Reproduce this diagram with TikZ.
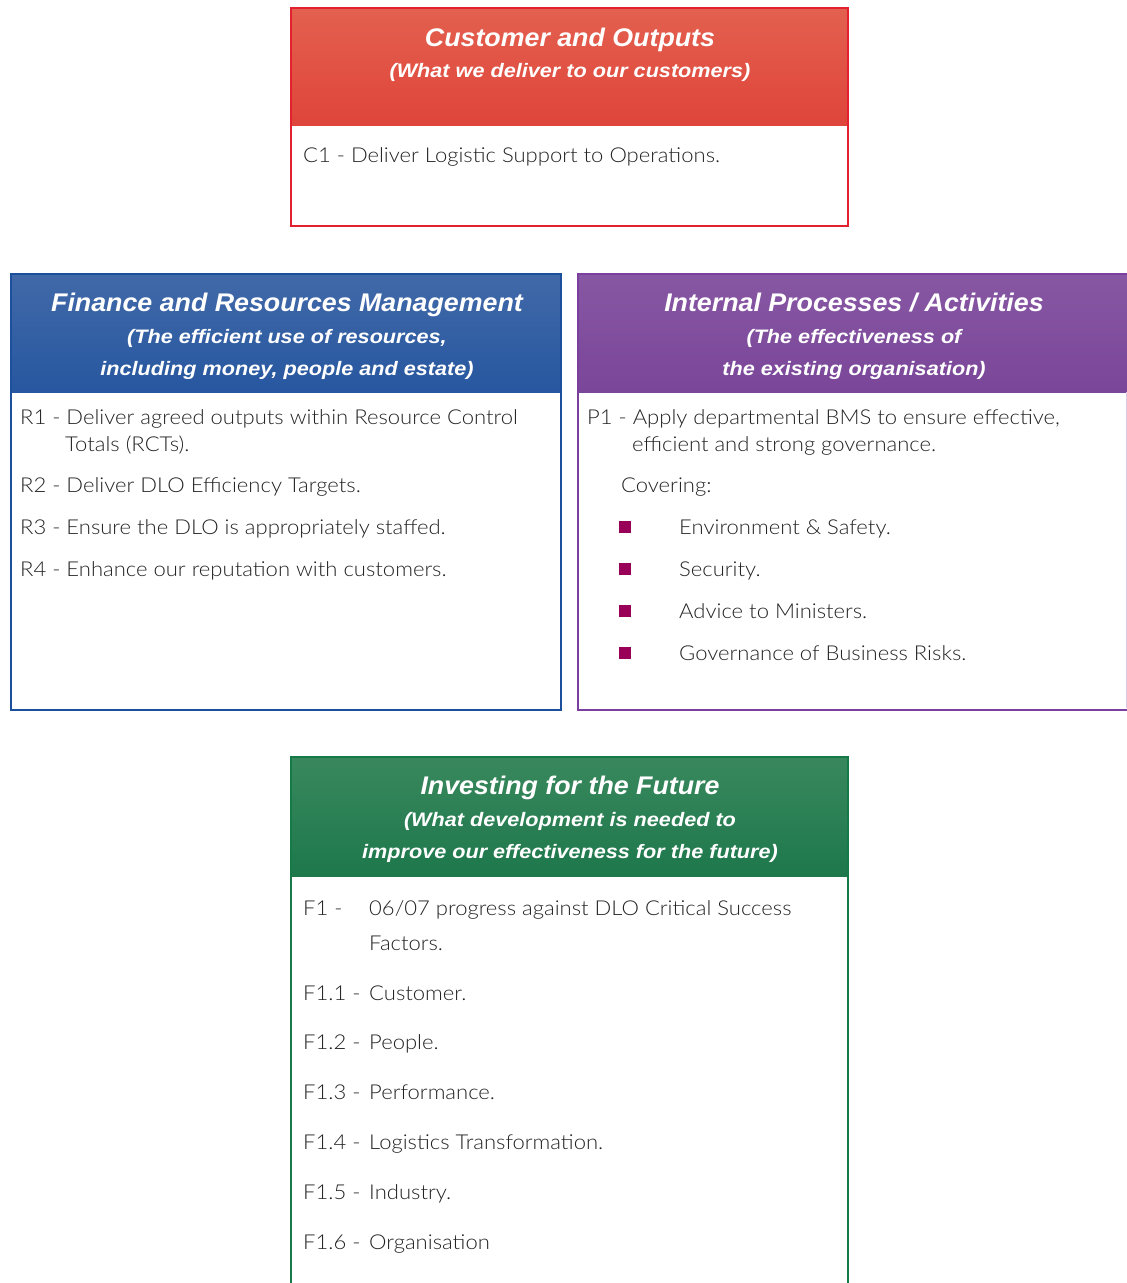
\documentclass[tikz,border=0pt]{standalone}
\usepackage{fontspec}
\setmainfont{Lato}[UprightFont={* Light}, FakeStretch=1.075]
\newfontfamily\headfont{Liberation Sans}[FakeStretch=1.05]
\newfontfamily\subheadfont{Liberation Sans}[FakeStretch=1.11]
\definecolor{redtop}{HTML}{E3604F}
\definecolor{redbot}{HTML}{DF453A}
\definecolor{redline}{HTML}{E2202F}
\definecolor{bluetop}{HTML}{4169A8}
\definecolor{bluebot}{HTML}{2757A0}
\definecolor{blueline}{HTML}{1C4F9C}
\definecolor{purptop}{HTML}{8757A3}
\definecolor{purpbot}{HTML}{7A4699}
\definecolor{purpline}{HTML}{7B3FA0}
\definecolor{purpfaint}{HTML}{D9C8E6}
\definecolor{greentop}{HTML}{39885D}
\definecolor{greenbot}{HTML}{1D784B}
\definecolor{greenline}{HTML}{157A48}
\definecolor{bodytext}{HTML}{222222}
\definecolor{bulletcol}{HTML}{990057}
\tikzset{
  title/.style={anchor=base, inner sep=0, text=white, font=\headfont\bfseries\itshape\fontsize{25.5}{30}\selectfont},
  subtitle/.style={anchor=base, inner sep=0, text=white, font=\subheadfont\bfseries\itshape\fontsize{19.5}{23}\selectfont},
  body/.style={anchor=base west, inner sep=0, text=bodytext, font=\fontsize{20.5}{24}\selectfont},
  bulletsq/.style={fill=bulletcol, draw=none, inner sep=0, minimum size=12.5pt},
}
\begin{document}
\begin{tikzpicture}[x=1pt,y=-1pt]
\useasboundingbox (0,0) rectangle (1127,1283);
\clip (0,0) rectangle (1127,1283);

% Customer and Outputs
\shade[top color=redtop, bottom color=redbot] (291,8) rectangle (848,125);
\draw[redline, line width=2.5pt] (291,8) rectangle (848,226);
\node[title] (ctitle) at (570,46) {Customer and Outputs};
\node[subtitle] (csub) at (570,77) {(What we deliver to our customers)};
\node[body] (c1) at (303,162) {C1 - Deliver Logistic Support to Operations.};

% Finance and Resources Management
\shade[top color=bluetop, bottom color=bluebot] (11,274) rectangle (561,392);
\draw[blueline, line width=2.5pt] (11,274) rectangle (561,710);
\node[title] (ftitle) at (287,311) {Finance and Resources Management};
\node[subtitle] (fsub1) at (287,343) {(The efficient use of resources,};
\node[subtitle] (fsub2) at (287,375) {including money, people and estate)};
\node[body] (r1) at (20,424) {R1 - Deliver agreed outputs within Resource Control};
\node[body] (r1b) at (65,451) {Totals (RCTs).};
\node[body] (r2) at (20,492) {R2 - Deliver DLO Efficiency Targets.};
\node[body] (r3) at (20,534) {R3 - Ensure the DLO is appropriately staffed.};
\node[body] (r4) at (20,576) {R4 - Enhance our reputation with customers.};

% Internal Processes / Activities
\shade[top color=purptop, bottom color=purpbot] (578,274) rectangle (1127,392);
\draw[purpfaint, line width=1pt] (1126.3,392) -- (1126.3,708);
\draw[purpline, line width=2.5pt] (1130,274) -- (578,274) -- (578,710) -- (1130,710);
\node[title] (ptitle) at (854,311) {Internal Processes / Activities};
\node[subtitle] (psub1) at (854,343) {(The effectiveness of};
\node[subtitle] (psub2) at (854,375) {the existing organisation)};
\node[body] (p1) at (587,424) {P1 - Apply departmental BMS to ensure effective,};
\node[body] (p1b) at (632,451) {efficient and strong governance.};
\node[body] (cov) at (621,492) {Covering:};
\node[bulletsq] (b1) at (625,527) {};
\node[body] (e1) at (679,534) {Environment \& Safety.};
\node[bulletsq] (b2) at (625,569) {};
\node[body] (e2) at (679,576) {Security.};
\node[bulletsq] (b3) at (625,611) {};
\node[body] (e3) at (679,618) {Advice to Ministers.};
\node[bulletsq] (b4) at (625,653) {};
\node[body] (e4) at (679,660) {Governance of Business Risks.};

% Investing for the Future
\shade[top color=greentop, bottom color=greenbot] (291,757) rectangle (848,876);
\draw[greenline, line width=2.5pt] (291,1295) -- (291,757) -- (848,757) -- (848,1295);
\node[title] (gtitle) at (570,794) {Investing for the Future};
\node[subtitle] (gsub1) at (570,826) {(What development is needed to};
\node[subtitle] (gsub2) at (570,858) {improve our effectiveness for the future)};
\node[body] (f1) at (303,915) {F1 -};
\node[body] (f1t) at (369,915) {06/07 progress against DLO Critical Success};
\node[body] (f1b) at (369,950) {Factors.};
\node[body] (f11) at (303,1000) {F1.1 -};
\node[body] (f11t) at (369,1000) {Customer.};
\node[body] (f12) at (303,1049) {F1.2 -};
\node[body] (f12t) at (369,1049) {People.};
\node[body] (f13) at (303,1099) {F1.3 -};
\node[body] (f13t) at (369,1099) {Performance.};
\node[body] (f14) at (303,1149) {F1.4 -};
\node[body] (f14t) at (369,1149) {Logistics Transformation.};
\node[body] (f15) at (303,1199) {F1.5 -};
\node[body] (f15t) at (369,1199) {Industry.};
\node[body] (f16) at (303,1249) {F1.6 -};
\node[body] (f16t) at (369,1249) {Organisation};
\end{tikzpicture}
\end{document}
